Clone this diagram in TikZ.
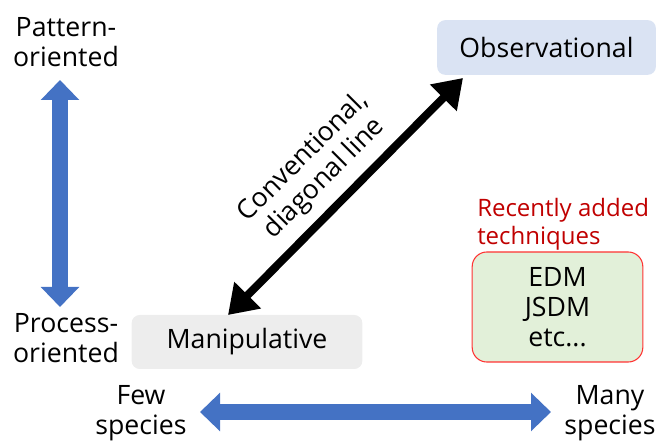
\documentclass[tikz,border=0pt]{standalone}
\usepackage{fontspec}
\setmainfont{Open Sans}
\usetikzlibrary{arrows.meta,positioning}
\definecolor{axisblue}{HTML}{4472C4}
\definecolor{obsfill}{HTML}{DAE3F3}
\definecolor{manfill}{HTML}{EDEDED}
\definecolor{newfill}{HTML}{E2F0D9}
\definecolor{newred}{HTML}{C00000}
\definecolor{newedge}{HTML}{FF3333}
\begin{document}
\begin{tikzpicture}[x=0.75pt,y=-0.75pt,
 lbl/.style={font=\fontsize{20}{22.5}\selectfont, align=center, inner sep=0pt},
 box/.style={lbl, rounded corners=6pt, minimum width=#1},
 axis/.style={{Triangle[length=15pt,width=28pt]}-{Triangle[length=15pt,width=28pt]}, line width=12.5pt, axisblue},
 diag/.style={{Triangle[length=21pt,width=27pt]}-{Triangle[length=21pt,width=27pt]}, line width=6pt, black},
]
 \useasboundingbox (0,0) rectangle (660,441);
 % axis labels
 \node[lbl] (pattern) at (66,42) {Pattern-\\oriented};
 \node[lbl] (process) at (66,338) {Process-\\oriented};
 \node[lbl] (few) at (141,413) {Few\\species};
 \node[lbl] (many) at (610,413) {Many\\species};
 % study types
 \node[box=164pt, minimum height=41pt, fill=obsfill] (obs) at (546.5,47.5) {Observational};
 \node[box=173pt, minimum height=40.5pt, fill=manfill] (manip) at (247,342) {Manipulative};
 \node[lbl, font=\fontsize{18}{21}\selectfont, text=newred, anchor=west, align=left] (recent) at (477,224) {Recently added\\techniques};
 \node[box=128pt, minimum height=82.5pt, fill=newfill, draw=newedge, line width=0.8pt, rounded corners=11pt] (newbox) at (557.5,307) {EDM\\JSDM\\etc...};
 % arrow ends
 \coordinate (vtop) at (60,80);
 \coordinate (vbot) at (60,307);
 \coordinate (hleft) at (200,412);
 \coordinate (hright) at (551,412);
 \coordinate (dlow) at (228,315);
 \coordinate (dhigh) at (463,78);
 \draw[axis] (vtop) -- (vbot);
 \draw[axis] (hleft) -- (hright);
 \draw[diag] (dlow) -- (dhigh);
 \node[lbl, rotate=45] (conv) at (314,168) {Conventional,\\diagonal line};
\end{tikzpicture}
\end{document}
